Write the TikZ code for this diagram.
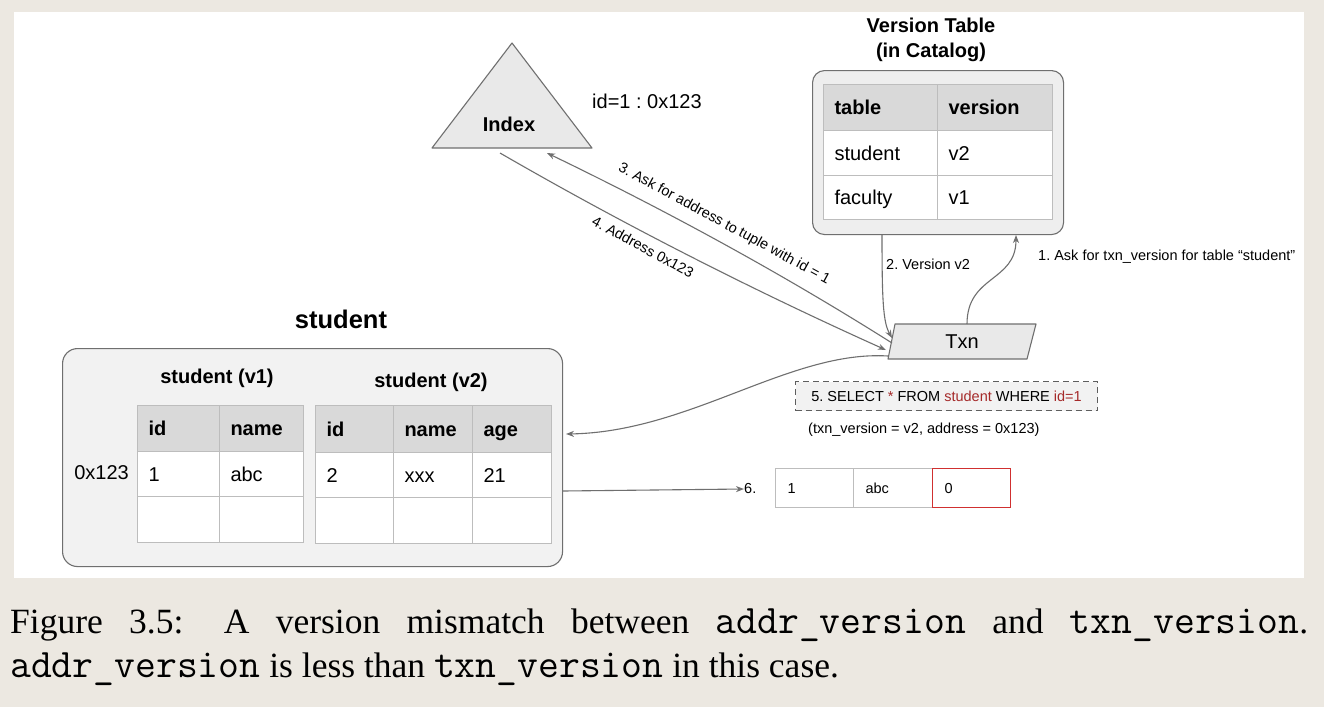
\documentclass[tikz,border=0pt]{standalone}
\usepackage{fontspec}
\setmainfont{Liberation Serif}
\newfontfamily\dsans{Liberation Sans}
\newcommand\captt[1]{{\fontsize{40.5}{43}\selectfont\ttfamily #1}}
\usetikzlibrary{arrows.meta}
\definecolor{bg}{HTML}{ECE8E1}
\definecolor{edge}{HTML}{6F6F6F}
\definecolor{hdr}{HTML}{D9D9D9}
\definecolor{grid}{HTML}{BDBDBD}
\definecolor{boxfill}{HTML}{F2F2F2}
\definecolor{vtfill}{HTML}{EEEEEE}
\definecolor{shapefill}{HTML}{E9E9E9}
\definecolor{sqlred}{HTML}{A52A2A}
\definecolor{cellred}{HTML}{D03030}
\begin{document}
\frenchspacing
\begin{tikzpicture}[x=1pt,y=-1pt,
  line/.style={draw=edge, line width=1.1pt},
  arr/.style={line, -{Stealth[length=8pt,width=6pt,inset=2.5pt]}},
  lbl/.style={font=\dsans\fontsize{14.5}{17}\selectfont, inner sep=0pt},
  big/.style={font=\dsans\fontsize{20}{25}\selectfont, inner sep=0pt},
  bigb/.style={font=\dsans\bfseries\fontsize{20}{25}\selectfont, inner sep=0pt, align=center},
  cell/.style={draw=grid, line width=1pt, fill=white, anchor=north west, inner xsep=11pt, inner ysep=0pt, align=left, font=\dsans\fontsize{20}{24}\selectfont, text height=16pt, text depth=1.5pt},
  hcell/.style={cell, fill=hdr, font=\dsans\bfseries\fontsize{20}{24}\selectfont},
  rcell/.style={cell, inner xsep=12pt, minimum height=39pt, font=\dsans\fontsize{14.5}{17}\selectfont, text height=12pt, text depth=1pt},
]
% background and panel
\fill[bg] (0,0) rectangle (1324,707);
\fill[white] (14,12) rectangle (1304,578);
\useasboundingbox (0,0) rectangle (1324,707);

% ---------------- Index ----------------
\draw[draw=edge, line width=1.1pt, fill=shapefill, line join=round] (512,43) -- (592,148) -- (432,148) -- cycle;
\node[bigb] (index) at (509,124) {Index};
\coordinate (idx3) at (547,153);
\coordinate (idx4) at (500,153);
\node[big, anchor=west] (idlbl) at (592,101) {id=1 : 0x123};

% ---------------- Version table ----------------
\node[bigb] (vtt) at (931,39.5) {Version Table\\(in Catalog)};
\node[draw=edge, line width=1.1pt, fill=vtfill, rounded corners=12pt, anchor=north west, minimum width=251pt, minimum height=164pt, inner sep=0pt] (vt) at (812,70) {};
\node[hcell, text width=92pt, minimum height=46pt] (vh1) at (823,84) {table};
\node[hcell, text width=93pt, minimum height=46pt] (vh2) at (937,84) {version};
\node[cell, text width=92pt, minimum height=45pt] (v11) at (823,130) {student};
\node[cell, text width=93pt, minimum height=45pt] (v12) at (937,130) {v2};
\node[cell, text width=92pt, minimum height=44pt] (v21) at (823,175) {faculty};
\node[cell, text width=93pt, minimum height=44pt] (v22) at (937,175) {v1};
\coordinate (vtb2) at (882,234);
\coordinate (vtb1) at (1016,235);

% ---------------- Txn ----------------
\draw[draw=edge, line width=1.1pt, fill=shapefill, line join=round] (895,324) -- (1036,324) -- (1027,359) -- (888,359) -- cycle;
\node[big] (txn) at (962,342) {Txn};
\coordinate (tx1) at (967,324);
\coordinate (tx2) at (892,338);
\coordinate (tx3) at (892,343);
\coordinate (tx4) at (886,350);
\coordinate (tx5) at (888,356);

% ---------------- student ----------------
\node[font=\dsans\bfseries\fontsize{25.5}{30}\selectfont, inner sep=0pt] (sttitle) at (341,319) {student};
\node[draw=edge, line width=1.1pt, fill=boxfill, rounded corners=15pt, anchor=north west, minimum width=500pt, minimum height=218pt, inner sep=0pt] (stbox) at (62,348) {};
\node[bigb] (sv1) at (217,378) {student (v1)};
\node[bigb] (sv2) at (431,382) {student (v2)};
\node[big, anchor=east] (addr) at (129,473) {0x123};
% v1
\node[hcell, text width=60pt, minimum height=46pt] (a11) at (137,405) {id};
\node[hcell, text width=62pt, minimum height=46pt] (a12) at (219,405) {name};
\node[cell, text width=60pt, minimum height=45pt] (a21) at (137,451) {1};
\node[cell, text width=62pt, minimum height=45pt] (a22) at (219,451) {abc};
\node[cell, text width=60pt, minimum height=46pt] (a31) at (137,496) {};
\node[cell, text width=62pt, minimum height=46pt] (a32) at (219,496) {};
% v2
\node[hcell, text width=56pt, minimum height=47pt] (b11) at (315,405) {id};
\node[hcell, text width=57pt, minimum height=47pt] (b12) at (393,405) {name};
\node[hcell, text width=57pt, minimum height=47pt] (b13) at (472,405) {age};
\node[cell, text width=56pt, minimum height=45pt] (b21) at (315,452) {2};
\node[cell, text width=57pt, minimum height=45pt] (b22) at (393,452) {xxx};
\node[cell, text width=57pt, minimum height=45pt] (b23) at (472,452) {21};
\node[cell, text width=56pt, minimum height=46pt] (b31) at (315,497) {};
\node[cell, text width=57pt, minimum height=46pt] (b32) at (393,497) {};
\node[cell, text width=57pt, minimum height=46pt] (b33) at (472,497) {};
\coordinate (st5) at (566,434);
\coordinate (st6) at (563,491);

% ---------------- SQL and result ----------------
\node[draw=edge!85!black, dash pattern=on 6pt off 4pt, line width=1.1pt, fill=boxfill, anchor=north west, minimum height=29pt, minimum width=302pt, inner xsep=11pt, inner ysep=0pt, font=\dsans\fontsize{14.5}{17}\selectfont] (sql) at (795,381)
  {5. SELECT \textcolor{sqlred}{*} FROM \textcolor{sqlred}{student} WHERE \textcolor{sqlred}{id=1}\hspace{6pt}};
\node[lbl, anchor=west] (params) at (808,430) {(txn\_version = v2, address = 0x123)};

\node[lbl, anchor=west] (six) at (744,489) {6.};
\node[rcell, text width=54pt] (r1) at (775,468) {1};
\node[rcell, text width=55pt] (r2) at (853,468) {abc};
\node[rcell, text width=54pt, draw=cellred] (r3) at (932,468) {0};

% ---------------- connectors ----------------
\draw[arr] (tx1) .. controls (967,275) and (1016,282) .. (vtb1);
\node[lbl, anchor=west] (l1) at (1038,257) {1. Ask for txn\_version for table “student”};
\draw[arr] (vtb2) .. controls (882,300) and (883,322) .. (tx2);
\node[lbl, anchor=west] (l2) at (886,264) {2. Version v2};
\draw[arr] (tx3) .. controls (778,271) and (661,208) .. (idx3);
\node[lbl, rotate=-28.5] (l3) at (724,224) {3. Ask for address to tuple with id = 1};
\draw[arr] (idx4) .. controls (628,227) and (757,292) .. (tx4);
\node[lbl, rotate=-28.5] (l4) at (643,247) {4. Address 0x123};
\draw[arr] (tx5) .. controls (790,350) and (690,432) .. (st5);
\draw[arr] (st6) -- (six.west);

% ---------------- caption ----------------
\node[anchor=base west, inner sep=0pt, font=\fontsize{35.5}{43}\selectfont] (cap1) at (10,633)
  {\makebox[1298pt][s]{Figure 3.5:\hspace{14pt} A version mismatch between \captt{addr\_version} and \captt{txn\_version}.}};
\node[anchor=base west, inner sep=0pt, font=\fontsize{35.5}{43}\selectfont] (cap2) at (10,677)
  {\captt{addr\_version} is less than \captt{txn\_version} in this case.};
\end{tikzpicture}
\end{document}
